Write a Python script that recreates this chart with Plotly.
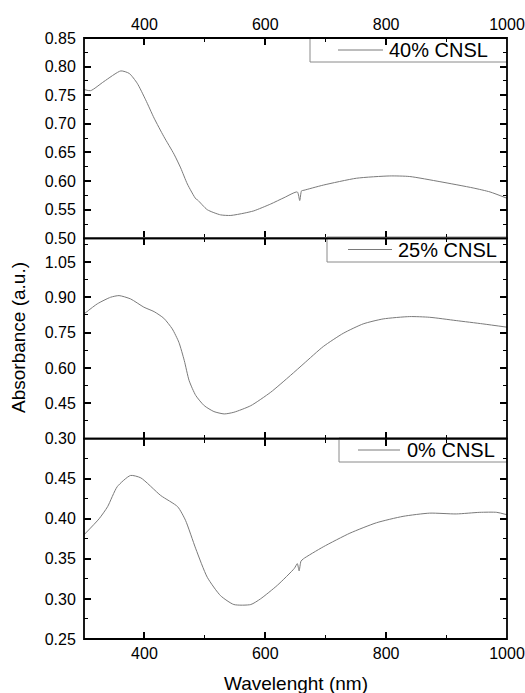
import plotly.graph_objects as go

# ---------------- data ----------------
wl40 = [300, 311, 333, 361, 375, 388, 402, 416, 432, 449, 460, 471, 485, 488, 504, 526, 543, 565, 581, 609, 631, 653, 657, 660, 664, 696, 751, 806, 839, 889, 944, 972, 1000]
abs40 = [0.760, 0.758, 0.774, 0.7925, 0.788, 0.771, 0.742, 0.710, 0.678, 0.647, 0.623, 0.595, 0.569, 0.567, 0.550, 0.541, 0.540, 0.544, 0.548, 0.560, 0.571, 0.581, 0.566, 0.583, 0.584, 0.593, 0.605, 0.609, 0.608, 0.599, 0.588, 0.581, 0.570]

wl25 = [300, 322, 344, 358, 377, 399, 416, 432, 446, 457, 466, 474, 485, 499, 515, 532, 548, 576, 609, 642, 664, 696, 729, 762, 795, 839, 872, 916, 960, 1000]
abs25 = [0.829, 0.872, 0.900, 0.907, 0.893, 0.858, 0.839, 0.811, 0.766, 0.709, 0.631, 0.546, 0.483, 0.440, 0.415, 0.405, 0.412, 0.440, 0.497, 0.569, 0.619, 0.691, 0.747, 0.787, 0.808, 0.818, 0.815, 0.801, 0.787, 0.773]

wl0 = [300, 325, 339, 355, 377, 394, 427, 455, 468, 485, 504, 526, 548, 576, 592, 620, 648, 653, 656, 659, 663, 696, 740, 784, 828, 872, 916, 955, 983, 1000]
abs0 = [0.380, 0.400, 0.415, 0.440, 0.454, 0.451, 0.429, 0.415, 0.398, 0.3625, 0.327, 0.304, 0.293, 0.293, 0.300, 0.317, 0.338, 0.344, 0.335, 0.347, 0.350, 0.365, 0.382, 0.395, 0.403, 0.407, 0.406, 0.408, 0.408, 0.405]

names = ["40% CNSL", "25% CNSL", "0% CNSL"]
# (first tick, tick step, minor step) per panel
y40_ticks = (0.50, 0.05, 0.025)
y25_ticks = (0.30, 0.15, 0.075)
y0_ticks = (0.25, 0.05, 0.025)
x_range = [300, 1000]
y40_range = [0.50, 0.85]
y25_range = [0.30, 1.15]
y0_range = [0.25, 0.4999]
x_title = "Wavelenght (nm)"
y_title = "Absorbance (a.u.)"

# ---------------- styling ----------------
W, H = 525, 693
ML, MR, MT, MB = 84, 18, 38, 54
PW, PH = W - ML - MR, H - MT - MB
FONT = "Liberation Sans, Arial, sans-serif"
LINE_C = "#7a7a7a"
TFONT = dict(family=FONT, size=16, color="black")
DOMAINS = [[2/3, 1], [1/3, 2/3], [0, 1/3]]

def px_x(px):
    return (px - ML) / PW

def px_y(py):
    return (H - MB - py) / PH

fig = go.Figure()
for wl, ab, xa, ya in [(wl40, abs40, "x", "y"), (wl25, abs25, "x2", "y2"), (wl0, abs0, "x3", "y3")]:
    fig.add_trace(go.Scatter(x=wl, y=ab, mode="lines", xaxis=xa, yaxis=ya,
                             line=dict(color=LINE_C, width=1, shape="spline", smoothing=0.6),
                             showlegend=False, hoverinfo="skip"))

def ax(**kw):
    d = dict(ticks="inside", ticklen=7, tickwidth=1.5, tickcolor="#000000", showline=True,
             showgrid=False, zeroline=False, tickfont=TFONT)
    d.update(kw)
    return d

def minor(dt, t0):
    return dict(ticks="inside", ticklen=4, tickwidth=1.3, tickcolor="#000000", dtick=dt, tick0=t0)

def yax(domain, anchor, spec):
    t0, dt, mdt = spec
    return ax(domain=domain, anchor=anchor, mirror="allticks", tickmode="linear",
              tick0=t0, dtick=dt, tickformat=".2f", minor=minor(mdt, t0))

fig.update_layout(
    width=W, height=H, margin=dict(l=ML, r=MR, t=MT, b=MB, autoexpand=False),
    paper_bgcolor="white", plot_bgcolor="rgba(0,0,0,0)", showlegend=False,
    xaxis=ax(domain=[0, 1], anchor="y", side="top", mirror="allticks",
             tickmode="linear", tick0=400, dtick=200, minor=minor(100, 300)),
    xaxis2=ax(domain=[0, 1], anchor="y2", mirror="allticks",
              tickmode="linear", tick0=400, dtick=200, showticklabels=False, minor=minor(100, 300)),
    xaxis3=ax(domain=[0, 1], anchor="y3", mirror="allticks",
              tickmode="linear", tick0=400, dtick=200, minor=minor(100, 300)),
    yaxis=yax(DOMAINS[0], "x", y40_ticks),
    yaxis2=yax(DOMAINS[1], "x2", y25_ticks),
    yaxis3=yax(DOMAINS[2], "x3", y0_ticks),
)

# axis extents: let autorange include the wanted bounds (fallback to a fixed range)
for name, rng in [("xaxis", x_range), ("xaxis2", x_range), ("xaxis3", x_range),
                  ("yaxis", y40_range), ("yaxis2", y25_range), ("yaxis3", y0_range)]:
    try:
        fig.layout[name].autorangeoptions = dict(include=list(rng))
    except Exception:
        fig.layout[name].range = list(rng)

for k in ["yaxis", "yaxis2", "yaxis3"]:
    try:
        fig.layout[k].ticklabelstandoff = 4
    except Exception:
        pass
try:
    fig.layout.xaxis.ticklabelstandoff = 1
except Exception:
    pass

shapes = []
annotations = []
# panel frames
for d0, d1 in DOMAINS:
    shapes.append(dict(type="rect", xref="paper", yref="paper", x0=0, x1=1, y0=d0, y1=d1,
                       line=dict(color="black", width=1.8), fillcolor="rgba(0,0,0,0)", layer="above"))

# legends drawn as boxed keys (box left px, box top px, box bottom px, line x0, line x1, text x)
legend_geo = [
    (310, 38, 62, 338, 383, 387),
    (327, 237, 262, 348, 392, 396),
    (339, 438, 462, 358, 400, 405),
]
for name, (bl, bt, bb, l0, l1, tx) in zip(names, legend_geo):
    shapes.append(dict(type="rect", xref="paper", yref="paper",
                       x0=px_x(bl), x1=1.0, y0=px_y(bb), y1=px_y(bt),
                       line=dict(color="#8a8a8a", width=1), fillcolor="white", layer="below"))
    ym = px_y((bt + bb) / 2)
    shapes.append(dict(type="line", xref="paper", yref="paper", x0=px_x(l0), x1=px_x(l1), y0=ym, y1=ym,
                       line=dict(color=LINE_C, width=1), layer="below"))
    annotations.append(dict(xref="paper", yref="paper", x=px_x(tx), y=ym, xanchor="left", yanchor="middle",
                            text=name, showarrow=False,
                            font=dict(family=FONT, size=20, color="black")))

annotations.append(dict(xref="paper", yref="paper", x=0.5, y=px_y(683), xanchor="center", yanchor="middle",
                        text=x_title, showarrow=False, font=dict(family=FONT, size=19, color="black")))
annotations.append(dict(xref="paper", yref="paper", x=px_x(18), y=px_y(338), xanchor="center", yanchor="middle",
                        text=y_title, textangle=-90, showarrow=False,
                        font=dict(family=FONT, size=19, color="black")))

fig.update_layout(shapes=shapes, annotations=annotations)
fig.write_html("out.html")
